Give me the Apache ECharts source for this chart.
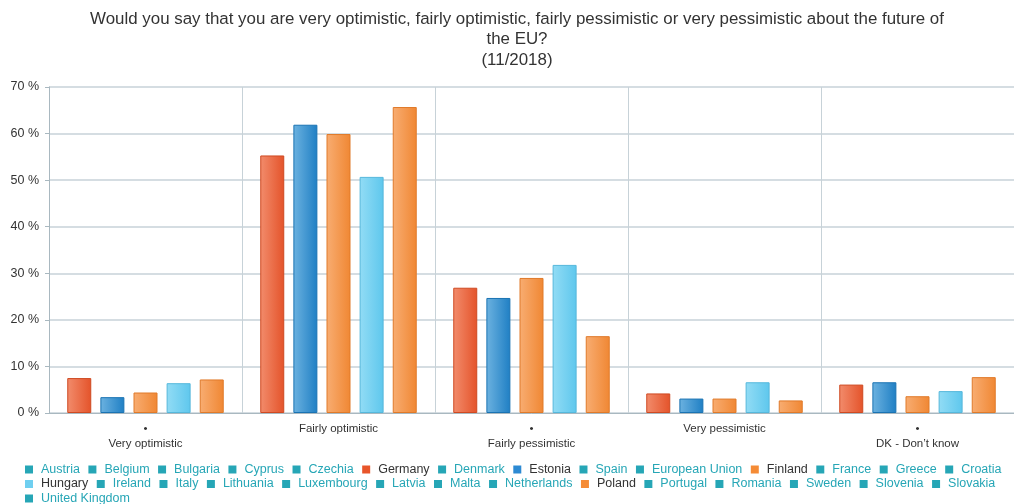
<!DOCTYPE html>
<html>
<head>
<meta charset="utf-8">
<script src="https://cdn.jsdelivr.net/npm/echarts@6/dist/echarts.min.js"></script>
<style>
  html, body { margin: 0; padding: 0; background: #fff; }
  #chart { width: 1014px; height: 504px; }
</style>
</head>
<body>
<div id="chart"></div>
<script>
// answer categories
const categories = ['•\nVery optimistic', 'Fairly optimistic', '•\nFairly pessimistic', 'Very pessimistic', '•\nDK - Don\u2019t know']
// every country in the legend, in legend order
const countries = ['Austria', 'Belgium', 'Bulgaria', 'Cyprus', 'Czechia', 'Germany', 'Denmark', 'Estonia', 'Spain',
  'European Union', 'Finland', 'France', 'Greece', 'Croatia', 'Hungary', 'Ireland', 'Italy', 'Lithuania',
  'Luxembourg', 'Latvia', 'Malta', 'Netherlands', 'Poland', 'Portugal', 'Romania', 'Sweden', 'Slovenia',
  'Slovakia', 'United Kingdom']
// the countries that are switched on in the reference (%)
const germany = [7.5, 55.3, 26.9, 4.2, 6.1]
const estonia = [3.4, 61.9, 24.7, 3.1, 6.6]
const finland = [4.4, 59.9, 29.0, 3.1, 3.6]
const hungary = [6.4, 50.7, 31.8, 6.6, 4.7]
const poland = [7.2, 65.7, 16.5, 2.7, 7.7]
const yTicks = [0, 10, 20, 30, 40, 50, 60, 70]

// gradient light / dark / border / legend colour
const shown = {
  Germany: { data: germany, c: ['#f28c6c', '#e4532a', '#cf4a22', '#e8552a'] },
  Estonia: { data: estonia, c: ['#6cb2e0', '#1f7fc4', '#1a73b3', '#2d8ad3'] },
  Finland: { data: finland, c: ['#f8ad72', '#f08733', '#e07a2a', '#f58b35'] },
  Hungary: { data: hungary, c: ['#92dcf5', '#5ec7ed', '#55b8dc', '#6fcff0'] },
  Poland: { data: poland, c: ['#f8ad72', '#f08733', '#e07a2a', '#f58b35'] }
}
const offColor = '#26a6b6'

const selected = {}
countries.forEach(name => { selected[name] = !!shown[name] })

const legendData = countries.map(name => ({
  name: name,
  itemStyle: { color: shown[name] ? shown[name].c[3] : offColor, borderWidth: 0 }
}))

const series = countries.map(name => {
  const s = shown[name]
  if (!s) {
    return { name: name, type: 'bar', data: [], itemStyle: { color: offColor } }
  }
  return {
    name: name,
    type: 'bar',
    data: s.data,
    barWidth: 24,
    barGap: '38%',
    itemStyle: {
      color: new echarts.graphic.LinearGradient(0, 0, 1, 0, [
        { offset: 0, color: s.c[0] },
        { offset: 1, color: s.c[1] }
      ]),
      borderColor: s.c[2],
      borderWidth: 1
    }
  }
})

const chart = echarts.init(document.getElementById('chart'))
chart.setOption({
  animation: false,
  title: {
    // title is centred a little right of the canvas middle
    left: 517,
    textAlign: 'center',
    top: 9,
    padding: 0,
    text: 'Would you say that you are very optimistic, fairly optimistic, fairly pessimistic or very pessimistic about the future of\nthe EU?',
    textStyle: { fontFamily: 'Liberation Sans', fontSize: 16.9, fontWeight: 'normal', color: '#333', lineHeight: 20 },
    subtext: '(11/2018)',
    subtextStyle: { fontFamily: 'Liberation Sans', fontSize: 16.9, color: '#333', lineHeight: 20 },
    itemGap: 1
  },
  legend: {
    left: 25,
    right: 0,
    top: 463,
    padding: 0,
    itemWidth: 8,
    itemHeight: 8,
    itemGap: 1.5,
    icon: 'rect',
    selected: selected,
    inactiveColor: offColor,
    inactiveBorderWidth: 0,
    textStyle: { fontFamily: 'Liberation Sans', fontSize: 12.5, color: '#333', lineHeight: 13, padding: [0, 7, 0, 3] },
    data: legendData
  },
  grid: { left: 49, top: 87, width: 966, bottom: 91 },
  xAxis: {
    type: 'category',
    data: categories,
    axisLine: { lineStyle: { color: '#a9b8c0' } },
    axisTick: { length: 4, lineStyle: { color: '#a9b8c0' } },
    splitLine: { show: true, lineStyle: { color: '#c7d2d8', width: 1 } },
    axisLabel: { fontFamily: 'Liberation Sans', fontSize: 11.5, color: '#333', lineHeight: 15, margin: 8, interval: 0 }
  },
  yAxis: {
    type: 'value',
    min: yTicks[0],
    max: yTicks[yTicks.length - 1],
    interval: 10,
    axisLine: { show: true, lineStyle: { color: '#a9b8c0' } },
    axisTick: { show: true, length: 4, lineStyle: { color: '#a9b8c0' } },
    splitLine: { lineStyle: { color: '#c7d2d8', width: 1.5 } },
    axisLabel: { fontFamily: 'Liberation Sans', fontSize: 12.5, color: '#333', margin: 10, formatter: '{value} %' }
  },
  series: series
})
</script>
</body>
</html>
